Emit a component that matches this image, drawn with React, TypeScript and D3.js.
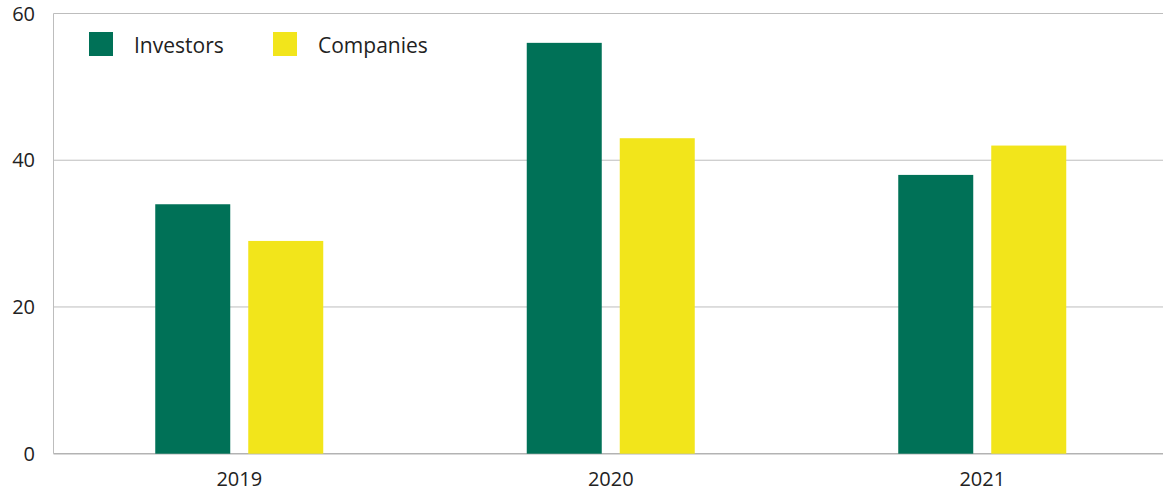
import React from "react";
import * as d3 from "d3";

const years = ["2019", "2020", "2021"];
const seriesNames = ["Investors", "Companies"];
const investors = [34, 56, 38];
const companies = [29, 43, 42];
const yTicks = [0, 20, 40, 60];

const colors = ["#007157", "#F2E51B"];

export default function App() {
  const W = 1163, H = 494;
  const left = 53.5, right = 1168, top = 13.5, bottom = 453.7;
  const x = d3.scaleBand<string>().domain(years).range([left, right]);
  const y = d3.scaleLinear().domain([0, 60]).range([bottom, top]);
  const barW = 75, gap = 18;
  const values = [investors, companies];
  const font = "'Open Sans', sans-serif";
  return (
    <svg width={W} height={H} style={{ position: "absolute", left: 0, top: 0 }}>
      <rect width={W} height={H} fill="#fff" />
      {yTicks.map((t) => (
        <g key={t}>
          <line x1={left} x2={W} y1={y(t)} y2={y(t)} stroke={t === 0 ? "#b3b3b3" : "#bdbdbd"} strokeWidth={t === 0 ? 1.5 : 1} />
          <text x={35} y={y(t)} dy="0.36em" textAnchor="end" fontFamily={font} fontSize={20} fill="#222">{t}</text>
        </g>
      ))}
      <line x1={left} x2={left} y1={top} y2={bottom} stroke="#bdbdbd" strokeWidth={1} />
      {years.map((yr, i) => {
        const c = (x(yr) as number) + x.bandwidth() / 2;
        return (
          <g key={yr}>
            {values.map((vals, s) => {
              const bx = s === 0 ? c - gap / 2 - barW : c + gap / 2;
              return <rect key={s} x={bx} width={barW} y={y(vals[i])} height={bottom - y(vals[i])} fill={colors[s]} />;
            })}
            <text x={c} y={486} textAnchor="middle" fontFamily={font} fontSize={20} fill="#222">{yr}</text>
          </g>
        );
      })}
      {seriesNames.map((n, s) => {
        const lx = 89 + s * 184;
        return (
          <g key={n}>
            <rect x={lx} y={32} width={24} height={24} fill={colors[s]} />
            <text x={lx + 45} y={53} fontFamily={font} fontSize={21} fill="#222">{n}</text>
          </g>
        );
      })}
    </svg>
  );
}
